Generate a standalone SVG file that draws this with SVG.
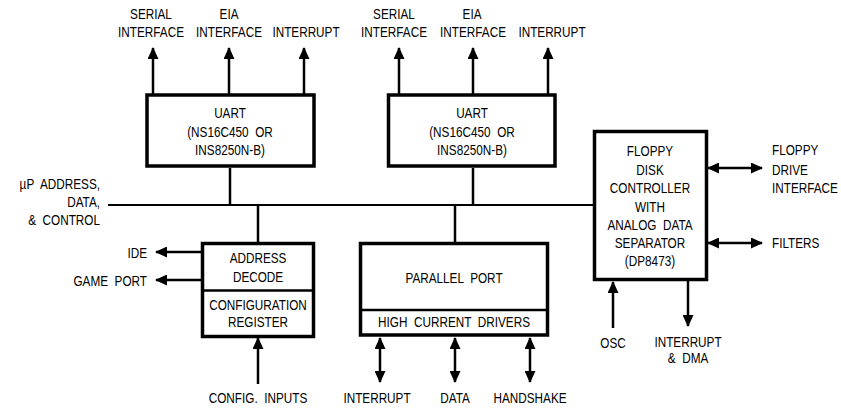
<svg xmlns="http://www.w3.org/2000/svg" width="841" height="409" viewBox="0 0 841 409">
<defs>
<style>
text{font-family:"Liberation Sans",Arial,sans-serif;font-size:14px;word-spacing:4px;fill:#000;transform-box:fill-box;transform-origin:left;transform:scaleX(0.84)}
.m{text-anchor:middle;transform-origin:center}
.e{text-anchor:end;transform-origin:right}
.box{fill:#fff;stroke:#000;stroke-width:3.5}
.w{stroke:#000;stroke-width:2.5;fill:none}
.bus{stroke:#000;stroke-width:2;fill:none}
</style>
<marker id="ah" viewBox="0 0 12 11" refX="11" refY="5.5" markerWidth="12" markerHeight="11" markerUnits="userSpaceOnUse" orient="auto-start-reverse">
<path d="M0,0 L12,5.5 L0,11 Z" fill="#000"/>
</marker>
</defs>
<rect width="841" height="409" fill="#fff"/>
<g id="connectors">
<path class="bus" d="M108,205 H594"/>
<path class="w" d="M230,168 V205"/>
<path class="w" d="M473,168 V205"/>
<path class="w" d="M258,205 V243"/>
<path class="w" d="M455,205 V243"/>
<path class="w" d="M153,95 V48" marker-end="url(#ah)"/>
<path class="w" d="M229,95 V48" marker-end="url(#ah)"/>
<path class="w" d="M304,95 V48" marker-end="url(#ah)"/>
<path class="w" d="M399,95 V48" marker-end="url(#ah)"/>
<path class="w" d="M473,95 V48" marker-end="url(#ah)"/>
<path class="w" d="M548,95 V48" marker-end="url(#ah)"/>
<path class="w" d="M201,252 H156" marker-end="url(#ah)"/>
<path class="w" d="M201,280 H156" marker-end="url(#ah)"/>
<path class="w" d="M258,384 V338" marker-end="url(#ah)"/>
<path class="w" d="M380,338 V382" marker-start="url(#ah)" marker-end="url(#ah)"/>
<path class="w" d="M455,338 V382" marker-start="url(#ah)" marker-end="url(#ah)"/>
<path class="w" d="M530,338 V382" marker-start="url(#ah)" marker-end="url(#ah)"/>
<path class="w" d="M708,168 H762" marker-start="url(#ah)" marker-end="url(#ah)"/>
<path class="w" d="M708,243 H762" marker-start="url(#ah)" marker-end="url(#ah)"/>
<path class="w" d="M613,328 V282" marker-end="url(#ah)"/>
<path class="w" d="M688,281 V326" marker-end="url(#ah)"/>
</g>
<g id="uart1">
<rect class="box" x="147" y="95" width="167" height="71"/>
<text class="m" x="230" y="118">UART</text>
<text class="m" x="230" y="137">(NS16C450 OR</text>
<text class="m" x="230" y="155">INS8250N-B)</text>
</g>
<g id="uart2">
<rect class="box" x="388.5" y="95" width="166.5" height="71"/>
<text class="m" x="472" y="118">UART</text>
<text class="m" x="472" y="137">(NS16C450 OR</text>
<text class="m" x="472" y="155">INS8250N-B)</text>
</g>
<g id="uart1-labels">
<text class="m" x="151" y="19">SERIAL</text>
<text class="m" x="151" y="37">INTERFACE</text>
<text class="m" x="229" y="19">EIA</text>
<text class="m" x="229" y="37">INTERFACE</text>
<text class="m" x="306" y="37">INTERRUPT</text>
</g>
<g id="uart2-labels">
<text class="m" x="394" y="19">SERIAL</text>
<text class="m" x="394" y="37">INTERFACE</text>
<text class="m" x="472" y="19">EIA</text>
<text class="m" x="473" y="37">INTERFACE</text>
<text class="m" x="552" y="37">INTERRUPT</text>
</g>
<g id="bus-label">
<text class="e" x="100" y="189">µP ADDRESS,</text>
<text class="e" x="100" y="207">DATA,</text>
<text class="e" x="100" y="225">&amp; CONTROL</text>
</g>
<g id="address-decode">
<rect class="box" x="202.5" y="243.5" width="111" height="93"/>
<path class="w" d="M202.5,290.5 H313.5"/>
<text class="m" x="258" y="263">ADDRESS</text>
<text class="m" x="258" y="282">DECODE</text>
<text class="m" x="258" y="310">CONFIGURATION</text>
<text class="m" x="258" y="327">REGISTER</text>
</g>
<g id="decode-labels">
<text class="e" x="147" y="258">IDE</text>
<text class="e" x="147" y="286">GAME PORT</text>
<text class="m" x="258" y="403">CONFIG. INPUTS</text>
</g>
<g id="parallel-port">
<rect class="box" x="360.5" y="243.5" width="187" height="91.5"/>
<path class="w" d="M360.5,310 H547.5"/>
<text class="m" x="454" y="283">PARALLEL PORT</text>
<text class="m" x="454" y="327">HIGH CURRENT DRIVERS</text>
</g>
<g id="parallel-labels">
<text class="m" x="377" y="403">INTERRUPT</text>
<text class="m" x="455" y="403">DATA</text>
<text class="m" x="530" y="403">HANDSHAKE</text>
</g>
<g id="floppy">
<rect class="box" x="594.5" y="131.5" width="112" height="148"/>
<text class="m" x="650" y="156">FLOPPY</text>
<text class="m" x="650" y="175">DISK</text>
<text class="m" x="650" y="193">CONTROLLER</text>
<text class="m" x="650" y="212">WITH</text>
<text class="m" x="650" y="230">ANALOG DATA</text>
<text class="m" x="650" y="248">SEPARATOR</text>
<text class="m" x="650" y="266">(DP8473)</text>
</g>
<g id="floppy-labels">
<text x="772" y="155">FLOPPY</text>
<text x="772" y="175">DRIVE</text>
<text x="772" y="193">INTERFACE</text>
<text x="772" y="248">FILTERS</text>
<text class="m" x="613" y="348">OSC</text>
<text class="m" x="688" y="347">INTERRUPT</text>
<text class="m" x="688" y="363">&amp; DMA</text>
</g>
</svg>
